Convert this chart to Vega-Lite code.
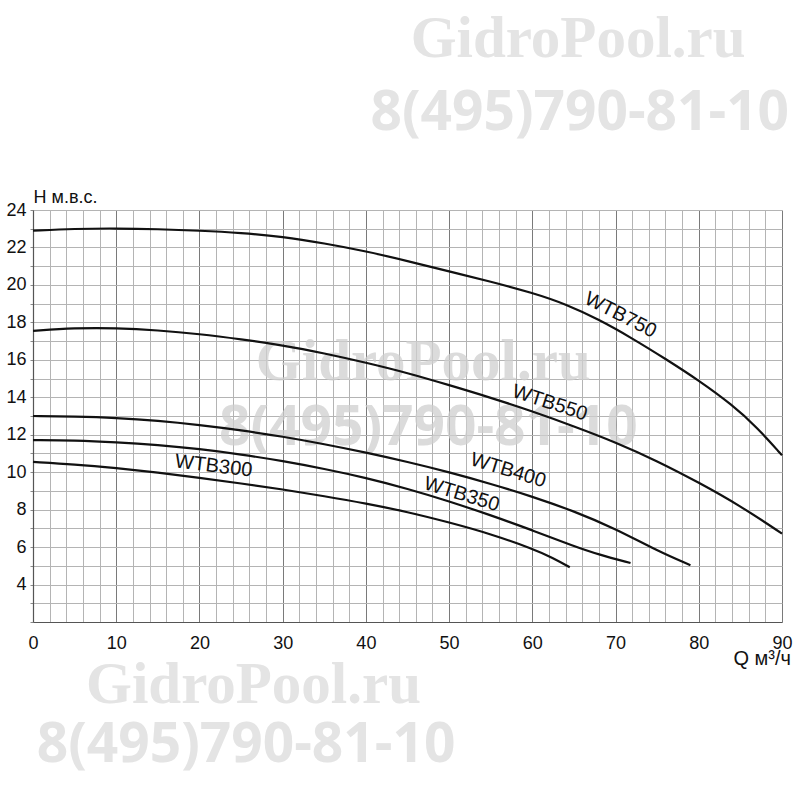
{
  "$schema": "https://vega.github.io/schema/vega-lite/v6.json",
  "autosize": "none",
  "padding": {"left": 33, "top": 210, "right": 18, "bottom": 178},
  "width": 749,
  "height": 412,
  "background": "white",
  "view": {"stroke": null},
  "datasets": {
    "curves": [
      {"series": "WTB750", "q": 0, "h": 22.9}, {"series": "WTB750", "q": 5, "h": 23.0}, {"series": "WTB750", "q": 10, "h": 23.02}, {"series": "WTB750", "q": 15, "h": 22.98}, {"series": "WTB750", "q": 20, "h": 22.9}, {"series": "WTB750", "q": 25, "h": 22.78}, {"series": "WTB750", "q": 30, "h": 22.58}, {"series": "WTB750", "q": 35, "h": 22.22}, {"series": "WTB750", "q": 40, "h": 21.8}, {"series": "WTB750", "q": 45, "h": 21.28}, {"series": "WTB750", "q": 50, "h": 20.72}, {"series": "WTB750", "q": 55, "h": 20.18}, {"series": "WTB750", "q": 60, "h": 19.58}, {"series": "WTB750", "q": 64, "h": 18.98}, {"series": "WTB750", "q": 68, "h": 18.15}, {"series": "WTB750", "q": 72, "h": 17.15}, {"series": "WTB750", "q": 76, "h": 16.05}, {"series": "WTB750", "q": 80, "h": 14.9}, {"series": "WTB750", "q": 84, "h": 13.6}, {"series": "WTB750", "q": 87, "h": 12.4}, {"series": "WTB750", "q": 90, "h": 10.9},
      {"series": "WTB550", "q": 0, "h": 17.55}, {"series": "WTB550", "q": 5, "h": 17.7}, {"series": "WTB550", "q": 10, "h": 17.7}, {"series": "WTB550", "q": 15, "h": 17.58}, {"series": "WTB550", "q": 20, "h": 17.38}, {"series": "WTB550", "q": 25, "h": 17.1}, {"series": "WTB550", "q": 30, "h": 16.78}, {"series": "WTB550", "q": 35, "h": 16.35}, {"series": "WTB550", "q": 40, "h": 15.85}, {"series": "WTB550", "q": 45, "h": 15.3}, {"series": "WTB550", "q": 50, "h": 14.65}, {"series": "WTB550", "q": 55, "h": 13.98}, {"series": "WTB550", "q": 60, "h": 13.25}, {"series": "WTB550", "q": 65, "h": 12.45}, {"series": "WTB550", "q": 70, "h": 11.6}, {"series": "WTB550", "q": 75, "h": 10.6}, {"series": "WTB550", "q": 80, "h": 9.45}, {"series": "WTB550", "q": 85, "h": 8.2}, {"series": "WTB550", "q": 90, "h": 6.72},
      {"series": "WTB400", "q": 0, "h": 13.0}, {"series": "WTB400", "q": 5, "h": 12.97}, {"series": "WTB400", "q": 10, "h": 12.9}, {"series": "WTB400", "q": 15, "h": 12.75}, {"series": "WTB400", "q": 20, "h": 12.52}, {"series": "WTB400", "q": 25, "h": 12.24}, {"series": "WTB400", "q": 30, "h": 11.9}, {"series": "WTB400", "q": 35, "h": 11.5}, {"series": "WTB400", "q": 40, "h": 11.05}, {"series": "WTB400", "q": 45, "h": 10.55}, {"series": "WTB400", "q": 50, "h": 10.0}, {"series": "WTB400", "q": 55, "h": 9.38}, {"series": "WTB400", "q": 60, "h": 8.7}, {"series": "WTB400", "q": 65, "h": 7.92}, {"series": "WTB400", "q": 70, "h": 6.98}, {"series": "WTB400", "q": 75, "h": 5.8}, {"series": "WTB400", "q": 79, "h": 5.03},
      {"series": "WTB350", "q": 0, "h": 11.71}, {"series": "WTB350", "q": 5, "h": 11.7}, {"series": "WTB350", "q": 10, "h": 11.6}, {"series": "WTB350", "q": 15, "h": 11.45}, {"series": "WTB350", "q": 20, "h": 11.24}, {"series": "WTB350", "q": 25, "h": 10.95}, {"series": "WTB350", "q": 30, "h": 10.6}, {"series": "WTB350", "q": 35, "h": 10.18}, {"series": "WTB350", "q": 40, "h": 9.7}, {"series": "WTB350", "q": 45, "h": 9.12}, {"series": "WTB350", "q": 50, "h": 8.45}, {"series": "WTB350", "q": 55, "h": 7.7}, {"series": "WTB350", "q": 60, "h": 6.9}, {"series": "WTB350", "q": 65, "h": 6.05}, {"series": "WTB350", "q": 68, "h": 5.6}, {"series": "WTB350", "q": 71.8, "h": 5.15},
      {"series": "WTB300", "q": 0, "h": 10.55}, {"series": "WTB300", "q": 5, "h": 10.42}, {"series": "WTB300", "q": 10, "h": 10.22}, {"series": "WTB300", "q": 15, "h": 9.98}, {"series": "WTB300", "q": 20, "h": 9.7}, {"series": "WTB300", "q": 25, "h": 9.4}, {"series": "WTB300", "q": 30, "h": 9.08}, {"series": "WTB300", "q": 35, "h": 8.72}, {"series": "WTB300", "q": 40, "h": 8.33}, {"series": "WTB300", "q": 45, "h": 7.88}, {"series": "WTB300", "q": 50, "h": 7.32}, {"series": "WTB300", "q": 55, "h": 6.7}, {"series": "WTB300", "q": 60, "h": 5.92}, {"series": "WTB300", "q": 62.5, "h": 5.42}, {"series": "WTB300", "q": 64.5, "h": 4.92}
    ],
    "labels": [
      {"label": "WTB750", "q": 70.6, "h": 18.39},
      {"label": "WTB550", "q": 62.1, "h": 13.7},
      {"label": "WTB400", "q": 57.1, "h": 10.1},
      {"label": "WTB350", "q": 51.5, "h": 8.82},
      {"label": "WTB300", "q": 21.7, "h": 10.33}
    ],
    "marks": [
      {"kind": "site", "text": "GidroPool.ru", "q": 65.5, "h": 32.18},
      {"kind": "phone", "text": "8(495)790-81-10", "q": 65.7, "h": 28.28},
      {"kind": "site", "text": "GidroPool.ru", "q": 26.5, "h": -2.35},
      {"kind": "phone", "text": "8(495)790-81-10", "q": 25.6, "h": -5.45}
    ],
    "midmarks": [
      {"kind": "site", "text": "GidroPool.ru", "q": 46.9, "h": 14.91},
      {"kind": "phone", "text": "8(495)790-81-10", "q": 47.5, "h": 11.44}
    ]
  },
  "encoding": {
    "x": {
      "field": "q", "type": "quantitative",
      "scale": {"domain": [0, 90], "nice": false, "zero": false},
      "axis": {
        "values": [0,2,4,6,8,10,12,14,16,18,20,22,24,26,28,30,32,34,36,38,40,42,44,46,48,50,52,54,56,58,60,62,64,66,68,70,72,74,76,78,80,82,84,86,88,90],
        "labelExpr": "datum.value % 10 === 0 ? datum.label : ''",
        "grid": true,
        "gridColor": {"condition": {"test": "datum.value % 10 === 0", "value": "#7a7a7a"}, "value": "#b4b4b4"},
        "gridWidth": 1,
        "ticks": false,
        "domain": true, "domainColor": "#555555", "domainWidth": 1.2,
        "labelFont": "Liberation Sans", "labelFontSize": 18, "labelColor": "#111111",
        "labelPadding": 12, "labelFlush": false, "labelOverlap": false,
        "title": "Q м³/ч", "titleFont": "Liberation Sans", "titleFontSize": 20, "titleFontWeight": "normal",
        "titleColor": "#111111", "titleAnchor": null, "titleAlign": "left", "titleBaseline": "alphabetic",
        "titleX": 700, "titleY": 42
      }
    },
    "y": {
      "field": "h", "type": "quantitative",
      "scale": {"domain": [2, 24], "nice": false, "zero": false},
      "axis": {
        "values": [2,3,4,5,6,7,8,9,10,11,12,13,14,15,16,17,18,19,20,21,22,23,24],
        "labelExpr": "datum.value % 2 === 0 && datum.value >= 4 ? datum.label : ''",
        "grid": true, "gridColor": "#b4b4b4", "gridWidth": 1,
        "ticks": true, "tickSize": 3, "tickColor": "#8a8a8a",
        "domain": true, "domainColor": "#555555", "domainWidth": 1.2,
        "labelFont": "Liberation Sans", "labelFontSize": 18, "labelColor": "#111111",
        "labelPadding": 4, "labelFlush": false, "labelOverlap": false,
        "title": "H м.в.с.", "titleFont": "Liberation Sans", "titleFontSize": 18, "titleFontWeight": "normal",
        "titleColor": "#111111", "titleAngle": 0, "titleAnchor": null, "titleAlign": "left", "titleBaseline": "alphabetic",
        "titleX": 0, "titleY": -8
      }
    }
  },
  "layer": [
    {
      "data": {"name": "midmarks"},
      "transform": [{"filter": "datum.kind === 'site'"}],
      "mark": {"type": "text", "font": "Liberation Serif", "fontWeight": "bold", "fontSize": 59, "color": "#cfcfcf", "opacity": 0.75, "align": "center", "baseline": "alphabetic"},
      "encoding": {"text": {"field": "text"}}
    },
    {
      "data": {"name": "midmarks"},
      "transform": [{"filter": "datum.kind === 'phone'"}],
      "mark": {"type": "text", "font": "Open Sans", "fontWeight": "bold", "fontSize": 55, "color": "#cfcfcf", "opacity": 0.75, "align": "center", "baseline": "alphabetic"},
      "encoding": {"text": {"field": "text"}}
    },
    {
      "data": {"name": "marks"},
      "transform": [{"filter": "datum.kind === 'site'"}],
      "mark": {"type": "text", "font": "Liberation Serif", "fontWeight": "bold", "fontSize": 59, "color": "#e4e4e4", "align": "center", "baseline": "alphabetic"},
      "encoding": {"text": {"field": "text"}}
    },
    {
      "data": {"name": "marks"},
      "transform": [{"filter": "datum.kind === 'phone'"}],
      "mark": {"type": "text", "font": "Open Sans", "fontWeight": "bold", "fontSize": 55, "color": "#e4e4e4", "align": "center", "baseline": "alphabetic"},
      "encoding": {"text": {"field": "text"}}
    },
    {
      "data": {"name": "curves"},
      "mark": {"type": "line", "interpolate": "basis", "color": "#111111", "strokeWidth": 2.2},
      "encoding": {"detail": {"field": "series"}}
    },
    {
      "data": {"name": "labels"},
      "transform": [{"filter": "datum.label === 'WTB750'"}],
      "mark": {"type": "text", "font": "Liberation Sans", "fontSize": 20, "color": "#111111", "angle": 27, "align": "center", "baseline": "middle"},
      "encoding": {"text": {"field": "label"}}
    },
    {
      "data": {"name": "labels"},
      "transform": [{"filter": "datum.label === 'WTB550'"}],
      "mark": {"type": "text", "font": "Liberation Sans", "fontSize": 20, "color": "#111111", "angle": 18, "align": "center", "baseline": "middle"},
      "encoding": {"text": {"field": "label"}}
    },
    {
      "data": {"name": "labels"},
      "transform": [{"filter": "datum.label === 'WTB400'"}],
      "mark": {"type": "text", "font": "Liberation Sans", "fontSize": 20, "color": "#111111", "angle": 17, "align": "center", "baseline": "middle"},
      "encoding": {"text": {"field": "label"}}
    },
    {
      "data": {"name": "labels"},
      "transform": [{"filter": "datum.label === 'WTB350'"}],
      "mark": {"type": "text", "font": "Liberation Sans", "fontSize": 20, "color": "#111111", "angle": 17, "align": "center", "baseline": "middle"},
      "encoding": {"text": {"field": "label"}}
    },
    {
      "data": {"name": "labels"},
      "transform": [{"filter": "datum.label === 'WTB300'"}],
      "mark": {"type": "text", "font": "Liberation Sans", "fontSize": 20, "color": "#111111", "angle": 7, "align": "center", "baseline": "middle"},
      "encoding": {"text": {"field": "label"}}
    }
  ]
}
